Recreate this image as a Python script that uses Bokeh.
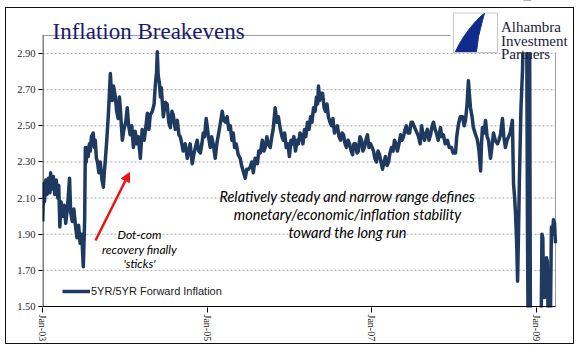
import pandas as pd
from bokeh.plotting import figure
from bokeh.models import (Range1d, FixedTicker, PrintfTickFormatter, DatetimeTickFormatter,
                          Label, Arrow, NormalHead, Legend, LegendItem, ColumnDataSource,
                          InlineStyleSheet)
from bokeh.embed import file_html
from bokeh.resources import INLINE

# ---------------- data ----------------
dates = [
 "2003-01-02","2003-01-06","2003-01-10","2003-01-15","2003-01-21","2003-01-27","2003-02-03","2003-02-06",
 "2003-02-12","2003-02-18","2003-02-24","2003-03-03","2003-03-10","2003-03-14","2003-03-19","2003-03-24",
 "2003-03-31","2003-04-07","2003-04-14","2003-04-22","2003-05-01","2003-05-06","2003-05-13","2003-05-20",
 "2003-05-27","2003-06-03","2003-06-10","2003-06-17","2003-06-24","2003-07-01","2003-07-07","2003-07-10",
 "2003-07-14","2003-07-18","2003-07-23","2003-07-28","2003-08-01","2003-08-06","2003-08-14","2003-08-19",
 "2003-08-23","2003-08-28","2003-09-02","2003-09-08","2003-09-14","2003-09-22","2003-09-28","2003-10-02",
 "2003-10-06","2003-10-13","2003-10-20","2003-10-24","2003-10-29","2003-11-02","2003-11-06","2003-11-12",
 "2003-11-20","2003-11-26","2003-12-03","2003-12-08","2003-12-12","2003-12-17","2003-12-21","2003-12-28",
 "2004-01-05","2004-01-12","2004-01-18","2004-01-25","2004-02-01","2004-02-08","2004-02-16","2004-02-23",
 "2004-03-01","2004-03-10","2004-03-18","2004-03-27","2004-04-04","2004-04-10","2004-04-17","2004-04-23",
 "2004-05-02","2004-05-10","2004-05-15","2004-05-21","2004-05-24","2004-05-28","2004-06-02","2004-06-07",
 "2004-06-11","2004-06-20","2004-06-29","2004-07-07","2004-07-14","2004-07-21","2004-07-28","2004-08-03",
 "2004-08-12","2004-08-21","2004-08-28","2004-09-03","2004-09-10","2004-09-16","2004-09-25","2004-10-04",
 "2004-10-10","2004-10-17","2004-10-26","2004-11-02","2004-11-09","2004-11-17","2004-11-24","2004-12-01",
 "2004-12-08","2004-12-14","2004-12-20","2004-12-27","2005-01-05","2005-01-14","2005-01-20","2005-01-27",
 "2005-02-05","2005-02-12","2005-02-19","2005-02-26","2005-03-08","2005-03-15","2005-03-22","2005-03-30",
 "2005-04-06","2005-04-13","2005-04-20","2005-04-26","2005-05-02","2005-05-09","2005-05-18","2005-05-27",
 "2005-06-02","2005-06-09","2005-06-18","2005-06-25","2005-07-02","2005-07-10","2005-07-17","2005-07-24",
 "2005-08-01","2005-08-11","2005-08-17","2005-08-24","2005-09-02","2005-09-09","2005-09-15","2005-09-22",
 "2005-09-28","2005-10-07","2005-10-14","2005-10-20","2005-10-29","2005-11-05","2005-11-12","2005-11-21",
 "2005-11-28","2005-12-04","2005-12-10","2005-12-17","2005-12-24","2005-12-31","2006-01-07","2006-01-14",
 "2006-01-20","2006-01-27","2006-02-03","2006-02-09","2006-02-16","2006-02-23","2006-03-01","2006-03-08",
 "2006-03-14","2006-03-21","2006-03-28","2006-04-04","2006-04-10","2006-04-17","2006-04-24","2006-04-30",
 "2006-05-05","2006-05-09","2006-05-14","2006-05-18","2006-05-27","2006-06-03","2006-06-09","2006-06-16",
 "2006-06-22","2006-06-29","2006-07-06","2006-07-12","2006-07-19","2006-07-26","2006-08-01","2006-08-08",
 "2006-08-15","2006-08-22","2006-08-28","2006-09-04","2006-09-10","2006-09-17","2006-09-24","2006-10-01",
 "2006-10-07","2006-10-13","2006-10-20","2006-10-27","2006-11-02","2006-11-09","2006-11-16","2006-11-22",
 "2006-11-29","2006-12-05","2006-12-12","2006-12-19","2006-12-26","2007-01-02","2007-01-08","2007-01-14",
 "2007-01-21","2007-01-28","2007-02-04","2007-02-10","2007-02-17","2007-02-24","2007-03-02","2007-03-09",
 "2007-03-16","2007-03-22","2007-03-29","2007-04-05","2007-04-11","2007-04-18","2007-04-24","2007-05-01",
 "2007-05-08","2007-05-15","2007-05-21","2007-05-28","2007-06-03","2007-06-10","2007-06-17","2007-06-24",
 "2007-06-30","2007-07-06","2007-07-13","2007-07-20","2007-07-27","2007-08-03","2007-08-09","2007-08-16",
 "2007-08-22","2007-08-29","2007-09-04","2007-09-11","2007-09-18","2007-09-25","2007-10-01","2007-10-08",
 "2007-10-14","2007-10-22","2007-11-01","2007-11-07","2007-11-14","2007-11-22","2007-12-02","2007-12-10",
 "2007-12-20","2007-12-27","2008-01-07","2008-01-12","2008-01-20","2008-01-28","2008-02-07","2008-02-14",
 "2008-02-20","2008-02-27","2008-03-04","2008-03-08","2008-03-13","2008-03-20","2008-03-26","2008-04-05",
 "2008-04-13","2008-04-20","2008-04-27","2008-05-01","2008-05-05","2008-05-12","2008-05-19","2008-05-26",
 "2008-06-01","2008-06-10","2008-06-16","2008-06-23","2008-07-01","2008-07-11","2008-07-17","2008-07-24",
 "2008-08-02","2008-08-08","2008-08-15","2008-08-22","2008-08-29","2008-09-05","2008-09-15","2008-09-20",
 "2008-09-25","2008-09-29","2008-10-04","2008-10-08","2008-10-12","2008-10-16","2008-10-23","2008-10-30",
 "2008-11-04","2008-11-10","2008-11-17","2008-11-21","2008-11-24","2008-11-27","2008-11-30","2008-12-04",
 "2008-12-15","2009-01-01","2009-01-20","2009-01-24","2009-01-28","2009-01-31","2009-02-04","2009-02-09",
 "2009-02-13","2009-02-17","2009-02-22","2009-03-02","2009-03-07","2009-03-12","2009-03-16","2009-03-21",
 "2009-03-25",
]
values = [
 1.97,2.18,2.08,2.20,2.12,2.21,2.13,2.24,
 2.15,2.22,2.12,2.20,2.10,2.17,1.94,2.08,
 2.00,2.06,1.96,2.05,2.21,2.02,1.97,2.04,
 1.95,1.88,1.95,1.85,1.90,1.72,1.98,2.38,
 2.30,2.38,2.33,2.40,2.36,2.44,2.46,2.38,
 2.42,2.32,2.30,2.24,2.30,2.20,2.16,2.24,
 2.30,2.42,2.56,2.66,2.79,2.70,2.64,2.72,
 2.66,2.58,2.54,2.66,2.60,2.50,2.42,2.48,
 2.52,2.60,2.50,2.45,2.50,2.38,2.47,2.40,
 2.44,2.32,2.48,2.42,2.50,2.57,2.48,2.56,
 2.58,2.62,2.72,2.80,2.91,2.78,2.74,2.66,
 2.71,2.55,2.63,2.62,2.52,2.49,2.58,2.56,
 2.48,2.53,2.45,2.44,2.40,2.36,2.40,2.32,
 2.36,2.40,2.29,2.34,2.38,2.42,2.36,2.35,
 2.40,2.46,2.44,2.54,2.45,2.38,2.44,2.40,
 2.32,2.40,2.45,2.50,2.58,2.53,2.52,2.55,
 2.48,2.50,2.42,2.46,2.38,2.40,2.34,2.32,
 2.28,2.25,2.21,2.26,2.26,2.27,2.30,2.24,
 2.32,2.29,2.36,2.35,2.42,2.36,2.38,2.44,
 2.40,2.38,2.44,2.48,2.60,2.52,2.55,2.48,
 2.44,2.42,2.46,2.38,2.40,2.33,2.42,2.40,
 2.44,2.36,2.42,2.40,2.46,2.45,2.40,2.48,
 2.44,2.52,2.48,2.55,2.52,2.60,2.58,2.66,
 2.62,2.72,2.64,2.68,2.68,2.60,2.58,2.62,
 2.55,2.52,2.50,2.54,2.46,2.48,2.50,2.44,
 2.42,2.46,2.45,2.40,2.38,2.42,2.40,2.36,
 2.34,2.40,2.40,2.35,2.36,2.44,2.42,2.36,
 2.38,2.42,2.45,2.38,2.40,2.38,2.36,2.32,
 2.30,2.36,2.34,2.30,2.26,2.30,2.33,2.28,
 2.30,2.35,2.38,2.36,2.42,2.40,2.36,2.40,
 2.45,2.42,2.44,2.48,2.50,2.46,2.46,2.52,
 2.52,2.50,2.48,2.46,2.44,2.40,2.50,2.45,
 2.42,2.46,2.48,2.42,2.45,2.50,2.52,2.48,
 2.46,2.42,2.49,2.44,2.45,2.40,2.42,2.38,
 2.38,2.35,2.35,2.44,2.51,2.55,2.55,2.50,
 2.53,2.62,2.75,2.68,2.60,2.55,2.49,2.45,
 2.42,2.36,2.25,2.40,2.49,2.46,2.53,2.44,
 2.42,2.32,2.38,2.46,2.42,2.40,2.42,2.45,
 2.54,2.44,2.38,2.42,2.44,2.46,2.53,2.18,
 2.10,2.01,1.85,1.64,1.90,2.20,2.60,2.81,
 3.10,3.20,3.20,1.90,1.30,3.20,3.20,1.30,
 1.20,1.20,1.30,1.90,1.88,1.57,1.55,1.60,
 1.77,1.75,1.30,1.35,1.94,1.90,1.98,1.96,
 1.85,
]
x_tick_dates = ["2003-01-01", "2005-01-01", "2007-01-01", "2009-01-01"]
y_ticks = [1.50, 1.70, 1.90, 2.10, 2.30, 2.50, 2.70, 2.90]
series_name = "5YR/5YR Forward Inflation"
title_text = "Inflation Breakevens"
logo_lines = ["Alhambra", "Investment", "Partners"]
note_lines = ["Relatively steady and narrow range defines",
              "monetary/economic/inflation stability",
              "toward the long run"]
dotcom_lines = ["Dot-com", "recovery finally", "'sticks'"]

# ---------------- helpers: picture pixel -> data units (decorations only) ----------------
T0 = pd.Timestamp("2003-01-01")
DAYS_PER_PX = 4.435
def X(px):
    return (T0 + pd.Timedelta(days=(px - 42) * DAYS_PER_PX)).value / 1e6
def Y(py):
    return 1.5 + (306 - py) / 180.7

W, H = 579, 349
FR_L, FR_R, FR_T, FR_B = 42, 575, 0, 307
AX_R = 555            # right end of the drawn plot area

src = ColumnDataSource(dict(date=pd.to_datetime(dates), val=values))

p = figure(width=W, height=H, x_axis_type="datetime", output_backend="svg",
           toolbar_location=None,
           x_range=Range1d(X(FR_L), X(FR_R)), y_range=Range1d(Y(FR_B), Y(FR_T)),
           min_border_left=FR_L, min_border_right=W - FR_R, min_border_top=FR_T,
           min_border_bottom=H - FR_B)
# thin black frame around the whole chart
p.stylesheets = [InlineStyleSheet(css="""
:host { position: relative; }
:host::after {
  content: ""; position: absolute; left: 5px; top: 7px; width: 569px; height: 337px;
  box-sizing: border-box; border: 1px solid #111; pointer-events: none; z-index: 1000;
}
""")]
p.outline_line_color = None
p.background_fill_color = "white"
p.border_fill_color = "white"
p.xgrid.visible = False
p.ygrid.visible = False

# axes (lines drawn manually so they stop at the plot-area edges)
p.yaxis.ticker = FixedTicker(ticks=y_ticks)
p.yaxis.formatter = PrintfTickFormatter(format="%.2f")
p.yaxis.axis_line_color = None
p.yaxis.major_tick_out = 4
p.yaxis.major_tick_in = 0
p.yaxis.major_tick_line_color = "black"
p.yaxis.major_label_standoff = 3
p.yaxis.major_label_text_font = "Liberation Serif"
p.yaxis.major_label_text_font_size = "10.5px"
p.yaxis.major_label_text_color = "#262626"

xt = [pd.Timestamp(d).value / 1e6 for d in x_tick_dates]
p.xaxis.ticker = FixedTicker(ticks=xt)
fmt = "%b-%y"
p.xaxis.formatter = DatetimeTickFormatter(years=fmt, months=fmt, days=fmt, hours=fmt,
                                          hourmin=fmt, minutes=fmt, minsec=fmt, seconds=fmt,
                                          milliseconds=fmt, microseconds=fmt)
p.xaxis.major_label_orientation = "vertical"
p.xaxis.axis_line_color = None
p.xaxis.major_tick_out = 5
p.xaxis.major_tick_in = 0
p.xaxis.major_tick_line_color = "black"
p.xaxis.major_label_standoff = 2
p.xaxis.major_label_text_font = "Liberation Serif"
p.xaxis.major_label_text_font_size = "10px"
p.xaxis.major_label_text_color = "#262626"

# dashed grid lines at the y ticks, gray top/right border of the plot area
grid_y = [t for t in y_ticks if t > y_ticks[0]]
p.segment(x0=[X(FR_L)] * len(grid_y), x1=[X(AX_R)] * len(grid_y), y0=grid_y, y1=grid_y,
          line_color="#a6a6a6", line_width=1, line_dash="2 2")
p.segment(x0=[X(FR_L), X(AX_R)], x1=[X(AX_R), X(AX_R)], y0=[3.0, 3.0], y1=[3.0, 1.5],
          line_color="#9a9a9a", line_width=1)

# series
line_r = p.line(x="date", y="val", source=src, line_width=3.5, line_color="#1f3a60",
                line_join="round")

# black axis lines
p.segment(x0=[X(42.5), X(42)], x1=[X(42.5), X(AX_R)], y0=[1.5, 1.5], y1=[3.0, 1.5],
          line_color="black", line_width=1)

# logo area
p.quad(left=X(450), right=X(FR_R), bottom=Y(52), top=Y(0), fill_color="white", line_color=None)
p.quad(left=X(453), right=X(497), bottom=Y(52), top=Y(12.5), fill_color="white",
       line_color="#c8c8c8", line_width=1)
sw_px = [455, 459, 464, 470, 476, 481, 484, 482, 480, 478, 477, 476]
sw_py = [51, 43, 35, 27, 20, 15, 13, 20, 28, 36, 44, 51]
p.patch(x=[X(v) for v in sw_px], y=[Y(v) for v in sw_py], fill_color="#0f2c8c", line_color="#0f2c8c")

for txt, base in zip(logo_lines, [26.5, 40, 53.5]):
    p.add_layout(Label(x=X(500.5), y=Y(base), text=txt, text_font="Liberation Serif",
                       text_font_size="15px", text_color="#1c1c3c", text_baseline="alphabetic"))

p.add_layout(Label(x=X(52), y=Y(30.5), text=title_text, text_font="Liberation Serif",
                   text_font_size="23px", text_color="#1a1a6e", text_baseline="alphabetic"))

for txt, base in zip(note_lines, [195.5, 213.5, 231.5]):
    p.add_layout(Label(x=X(347), y=Y(base), text=txt, text_font="Lato", text_font_style="italic",
                       text_font_size="14.5px", text_color="black", text_align="center",
                       text_baseline="alphabetic"))
for txt, base in zip(dotcom_lines, [234, 248.5, 263]):
    p.add_layout(Label(x=X(139), y=Y(base), text=txt, text_font="Lato", text_font_style="italic",
                       text_font_size="12px", text_color="black", text_align="center",
                       text_baseline="alphabetic"))

p.add_layout(Arrow(end=NormalHead(size=9, fill_color="#ee1111", line_color="#ee1111"),
                   x_start=X(95), y_start=Y(240), x_end=X(129), y_end=Y(172),
                   line_color="#ee1111", line_width=2.5))

legend = Legend(items=[LegendItem(label=series_name, renderers=[line_r])], location=(20, 10))
legend.border_line_color = None
legend.background_fill_alpha = 0
legend.padding = 0
legend.margin = 0
legend.spacing = 0
legend.glyph_width = 28
legend.glyph_height = 12
legend.label_height = 12
legend.label_standoff = 1
legend.label_text_font = "Liberation Sans"
legend.label_text_font_size = "11px"
legend.label_text_color = "#1a1a1a"
p.add_layout(legend)

open("out.html", "w").write(file_html(p, INLINE))
